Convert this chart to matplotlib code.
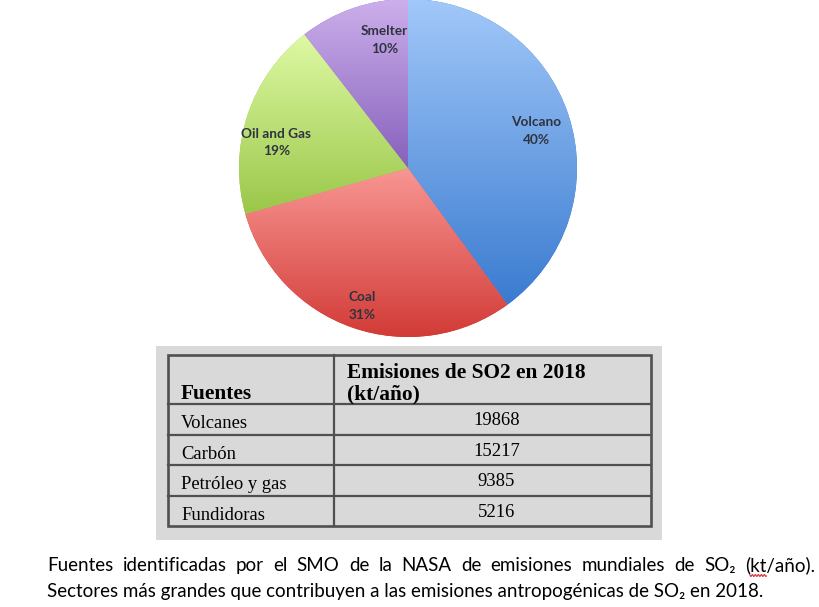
import numpy as np
import matplotlib
matplotlib.use('Agg')
import matplotlib.pyplot as plt
from matplotlib.colors import LinearSegmentedColormap
from matplotlib.patches import Rectangle

# ---------------- data ----------------
pie_labels = ['Volcano', 'Coal', 'Oil and Gas', 'Smelter']
sources_es = ['Volcanes', 'Carbón', 'Petróleo y gas', 'Fundidoras']
emissions = [19868, 15217, 9385, 5216]
header = ['Fuentes', 'Emisiones de SO2 en 2018\n(kt/año)']
caption_lines = [
    'Fuentes identificadas por el SMO de la NASA de emisiones mundiales de SO₂ (kt/año).',
    'Sectores más grandes que contribuyen a las emisiones antropogénicas de SO₂ en 2018.',
]
grad_colors = [('#A2C8F9', '#3A7BD0'), ('#F89693', '#D23B37'),
               ('#DEF9A4', '#9AC749'), ('#CCAFEB', '#8661BC')]
# label placement tweaks (layout only): (dx, dy) in axes units
label_nudge = [(0.0, -0.03), (-0.01, -0.06), (-0.02, -0.10), (0.12, 0.0)]

W, H = 820, 607
fig = plt.figure(figsize=(W / 100, H / 100), dpi=100)
fig.patch.set_facecolor('white')
cap_font = ['Lato', 'DejaVu Sans']

# ---------------- background axes (pixel coords) ----------------
ax = fig.add_axes([0, 0, 1, 1])
ax.set_xlim(0, W)
ax.set_ylim(H, 0)
ax.axis('off')

# ---------------- pie ----------------
cx, cy, R = 408, 168, 169
axp = fig.add_axes([(cx - R) / W, (H - cy - R) / H, 2 * R / W, 2 * R / H])
names = iter(pie_labels)
wedges, texts, autotexts = axp.pie(
    emissions, startangle=90, counterclock=False, radius=1,
    autopct=lambda p: f'{next(names)}\n{p:.0f}%', pctdistance=0.8,
    wedgeprops=dict(edgecolor='none'),
    textprops=dict(fontsize=9.8, family=['Lato', 'DejaVu Sans'], weight='bold',
                   color='#2E3340', ha='center', va='center', linespacing=1.55))
for w, (c_top, c_bot) in zip(wedges, grad_colors):
    w.set_facecolor(c_bot)
    ext = w.get_path().get_extents()
    cmap = LinearSegmentedColormap.from_list('g', [c_bot, c_top])
    grad = np.linspace(0, 1, 256).reshape(-1, 1)
    im = axp.imshow(grad, extent=[ext.x0, ext.x1, ext.y0, ext.y1], origin='lower',
                    cmap=cmap, aspect='auto', interpolation='bicubic', zorder=2)
    im.set_clip_path(w)
for t, (dx, dy) in zip(autotexts, label_nudge):
    x, y = t.get_position()
    t.set_position((x + dx, y + dy))
    t.set_zorder(5)
axp.set_xlim(-1, 1)
axp.set_ylim(-1, 1)
axp.set_aspect('equal')
axp.axis('off')

renderer = fig.canvas.get_renderer()

# ---------------- table ----------------
ax.add_patch(Rectangle((156, 346), 506, 194, facecolor='#D9D9D9', edgecolor='none'))
tx0, tx1, tcol = 168, 651, 334
ty0, thead = 355, 404
row_h = (526 - thead) / len(sources_es)
lc = '#505050'
ty1 = thead + row_h * len(sources_es)
ax.add_patch(Rectangle((tx0, ty0), tx1 - tx0, ty1 - ty0, facecolor='none', edgecolor=lc, lw=1.9))
ax.plot([tcol, tcol], [ty0, ty1], color=lc, lw=1.6)
for i in range(len(sources_es)):
    yy = thead + row_h * i
    ax.plot([tx0, tx1], [yy, yy], color=lc, lw=1.6)

serif = ['Liberation Serif', 'DejaVu Serif']
# fit font sizes to the widths measured on the reference
probe = ax.text(0, 0, header[1].split('\n')[0], family=serif, weight='bold', fontsize=12)
fs_head = 12 * 238 / probe.get_window_extent(renderer).width
probe.remove()
probe = ax.text(0, 0, sources_es[0], family=serif, fontsize=12)
fs_body = 12 * 67 / probe.get_window_extent(renderer).width
probe.remove()

ax.text(181, 399, header[0], family=serif, weight='bold', fontsize=fs_head, va='baseline', ha='left', color='black')
ax.text(347, 399, header[1], family=serif, weight='bold', fontsize=fs_head, va='baseline', ha='left',
        color='black', linespacing=1.1)
for i, (s, v) in enumerate(zip(sources_es, emissions)):
    yc = thead + row_h * i + row_h / 2
    ax.text(181, yc + 9, s, family=serif, fontsize=fs_body, va='baseline', ha='left', color='black')
    ax.text((tcol + tx1) / 2 + 4, yc + 6, f'{v}', family=serif, fontsize=fs_body, va='baseline',
            ha='center', color='black')

# ---------------- caption ----------------
x_left, x_right = 47, 815
target2 = 715
fs = 13.0
t2 = ax.text(x_left, 597, caption_lines[1], family=cap_font, fontsize=fs, va='baseline', ha='left', color='black')
wpx = t2.get_window_extent(renderer).width
fs = fs * target2 / wpx
t2.set_fontsize(fs)

words = caption_lines[0].split(' ')
wts = []
widths = []
for wd in words:
    tt = ax.text(0, 571, wd, family=cap_font, fontsize=fs, va='baseline', ha='left', color='black')
    wts.append(tt)
    widths.append(tt.get_window_extent(renderer).width)
gap = (x_right - x_left - sum(widths)) / (len(words) - 1)
xx = x_left
for tt, wdt in zip(wts, widths):
    tt.set_x(xx)
    xx += wdt + gap

# spell-check wavy underline under "kt"
last_word_x = x_right - widths[-1]
p = ax.text(0, 0, '(', family=cap_font, fontsize=fs)
w_open = p.get_window_extent(renderer).width
p.set_text('(kt')
w_kt = p.get_window_extent(renderer).width
p.remove()
wx = np.linspace(last_word_x + w_open, last_word_x + w_kt, 40)
wy = 575.5 + 1.0 * np.sin((wx - wx[0]) * np.pi / 1.5)
ax.plot(wx, wy, color='#E03030', lw=0.8)

fig.savefig('out.png', dpi=100, facecolor='white')
